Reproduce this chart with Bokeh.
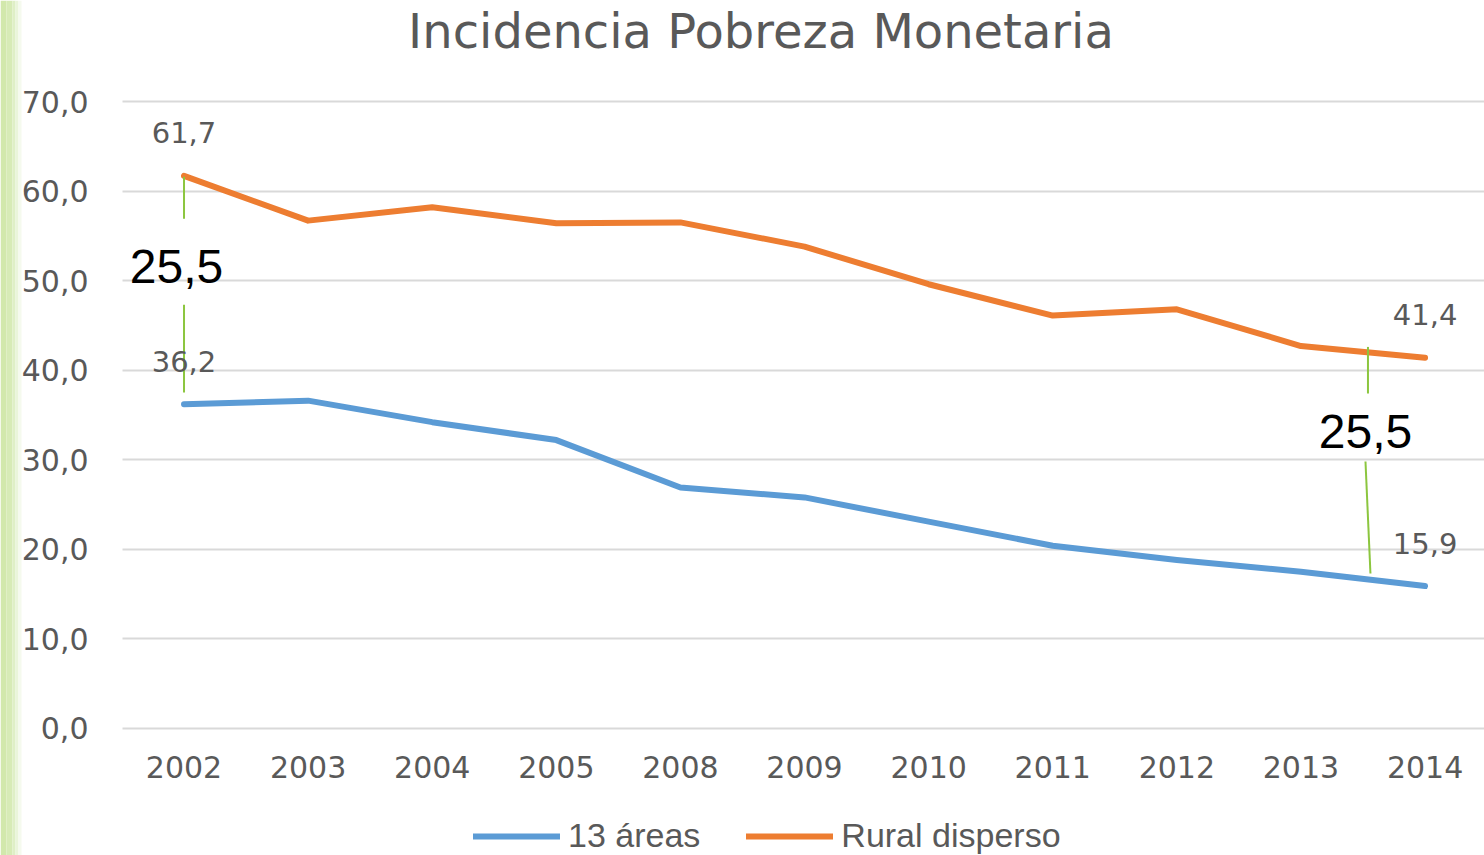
from bokeh.plotting import figure
from bokeh.models import (Range1d, FixedTicker, ColumnDataSource, LabelSet, Label,
                          Legend, LegendItem, BoxAnnotation)
from bokeh.core.properties import value
from bokeh.embed import file_html
from bokeh.resources import INLINE

# ---------------- data ----------------
years = ["2002", "2003", "2004", "2005", "2008", "2009",
         "2010", "2011", "2012", "2013", "2014"]
areas13 = [36.2, 36.6, 34.2, 32.2, 26.9, 25.8, 23.1, 20.4, 18.8, 17.5, 15.9]
rural = [61.7, 56.7, 58.2, 56.4, 56.5, 53.8, 49.6, 46.1, 46.8, 42.7, 41.4]
series_names = ["13 áreas", "Rural disperso"]
title_text = "Incidencia Pobreza Monetaria"
y_ticks = [0, 10, 20, 30, 40, 50, 60, 70]
y_tick_labels = ["0,0", "10,0", "20,0", "30,0", "40,0", "50,0", "60,0", "70,0"]
labeled_idx = [0, 10]                 # points that carry a value label
gap_text = ["25,5", "25,5"]           # difference between the series
gap_text_x = [-0.06, 9.52]
gap_text_y = [51.6, 33.2]
bracket_x0 = [0.0, 0.0, 9.54, 9.52]
bracket_y0 = [61.6, 47.3, 42.6, 29.8]
bracket_x1 = [0.0, 0.0, 9.54, 9.56]
bracket_y1 = [56.9, 37.5, 37.4, 17.3]

BLUE = "#5B9BD5"
ORANGE = "#ED7D31"
GREEN = "#8CC63F"
GREY = "#595959"
GRID = "#D9D9D9"

x = list(range(len(years)))
X_LO, X_HI = -0.4956, 10.479      # visible plotting band (grid extent)

p = figure(width=1484, height=855, output_backend="svg", toolbar_location=None,
           x_range=Range1d(-1.4787, X_HI), y_range=Range1d(-14.179, 81.276),
           min_border_left=0, min_border_right=0,
           min_border_top=0, min_border_bottom=0)
p.outline_line_color = None
p.background_fill_color = "white"
p.border_fill_color = "white"

# left decorative green strip
for l, r, c in [(0, 6, "#d2e8ac"), (6, 12, "#d7ebb6"), (12, 15, "#dfefc6"),
                (15, 18, "#eaf5da"), (18, 21, "#f5faee")]:
    p.add_layout(BoxAnnotation(left=l, right=r, left_units="canvas", right_units="canvas",
                               fill_color=c, fill_alpha=1, line_color=None, level="underlay"))

# title
p.add_layout(Label(x=4.649, y=77.83, text=title_text, text_align="center",
                   text_baseline="alphabetic", text_font="DejaVu Sans",
                   text_font_size="48px", text_color=GREY))

# axes
p.yaxis.ticker = FixedTicker(ticks=y_ticks)
p.ygrid.ticker = FixedTicker(ticks=y_ticks)
p.yaxis.major_label_overrides = {t: l for t, l in zip(y_ticks, y_tick_labels)}
p.xaxis.ticker = FixedTicker(ticks=x)
p.xaxis.major_label_overrides = {i: yv for i, yv in zip(x, years)}
p.xaxis.fixed_location = 0
p.yaxis.fixed_location = X_LO
for ax in (p.xaxis, p.yaxis):
    ax.axis_line_color = None
    ax.major_tick_line_color = None
    ax.minor_tick_line_color = None
    ax.major_tick_out = 0
    ax.major_tick_in = 0
    ax.major_label_text_font = "DejaVu Sans"
    ax.major_label_text_font_size = "30px"
    ax.major_label_text_color = GREY
p.yaxis.major_label_standoff = 34
p.xaxis.major_label_standoff = 28
p.xgrid.grid_line_color = None

# horizontal gridlines only across the plotting band
if "cross_bounds" in p.ygrid.properties():
    p.ygrid.grid_line_color = GRID
    p.ygrid.grid_line_width = 2
    p.ygrid.cross_bounds = (X_LO, X_HI)
else:
    p.ygrid.grid_line_color = None
    p.segment(x0=[X_LO] * len(y_ticks), y0=y_ticks, x1=[X_HI] * len(y_ticks), y1=y_ticks,
              line_color=GRID, line_width=2, level="underlay")

# lines
r_blue = p.line(x, areas13, line_color=BLUE, line_width=6, line_cap="round", line_join="round")
r_orange = p.line(x, rural, line_color=ORANGE, line_width=6, line_cap="round", line_join="round")

# value labels
def fmt(v):
    return f"{v:.1f}".replace(".", ",")

lab_src = ColumnDataSource(dict(
    x=[x[i] for i in labeled_idx] * 2,
    y=[rural[i] for i in labeled_idx] + [areas13[i] for i in labeled_idx],
    t=[fmt(rural[i]) for i in labeled_idx] + [fmt(areas13[i]) for i in labeled_idx],
))
p.add_layout(LabelSet(x="x", y="y", text="t", source=lab_src, y_offset=43,
                      text_align="center", text_baseline="middle",
                      text_font=value("DejaVu Sans"), text_font_size="29px",
                      text_color=GREY))

# green bracket lines and gap labels
p.segment(bracket_x0, bracket_y0, bracket_x1, bracket_y1, line_color=GREEN, line_width=2)
gap_src = ColumnDataSource(dict(x=gap_text_x, y=gap_text_y, t=gap_text))
p.add_layout(LabelSet(x="x", y="y", text="t", source=gap_src,
                      text_align="center", text_baseline="middle",
                      text_font=value("Liberation Sans"), text_font_size="48px",
                      text_color="black"))

# legend
legend = Legend(items=[LegendItem(label=series_names[0], renderers=[r_blue]),
                       LegendItem(label=series_names[1], renderers=[r_orange])],
                orientation="horizontal", location=(473, 0),
                glyph_width=87, glyph_height=20, label_standoff=8, spacing=46,
                padding=0, margin=0, border_line_color=None,
                background_fill_alpha=0,
                label_text_font="Liberation Sans", label_text_font_size="34px",
                label_text_color=GREY)
p.add_layout(legend, "center")

open("out.html", "w").write(file_html(p, INLINE))
